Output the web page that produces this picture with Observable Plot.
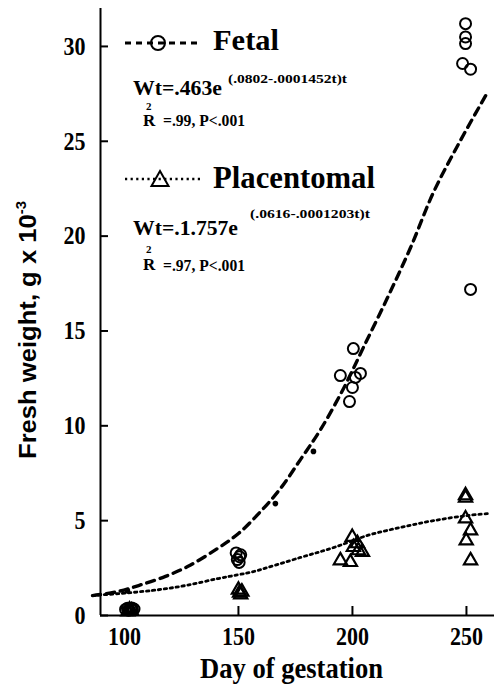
<!DOCTYPE html>
<html>
<head>
<meta charset="utf-8">
<script src="https://cdn.jsdelivr.net/npm/d3@7"></script>
<script src="https://cdn.jsdelivr.net/npm/@observablehq/plot@0.6"></script>
<style>
  body { margin: 0; background: #fff; }
  #chart { width: 494px; height: 688px; }
</style>
</head>
<body>
<div id="chart"></div>
<script>
// Fetal fresh weight (g x 10^-3) by day of gestation
const fetalDay = [100.5, 101.3, 102, 102.8, 103.5, 104.2, 101.8, 103.2,
                  149, 150.5, 149.5, 150.3, 151,
                  194.7, 200.4, 203.5, 201.3, 200, 198.7,
                  249.6, 249.6, 249.6, 248.3, 251.8, 251.8];
const fetalWt  = [0.32, 0.38, 0.3, 0.36, 0.3, 0.34, 0.28, 0.4,
                  3.3, 3.1, 2.95, 2.8, 3.2,
                  12.65, 14.07, 12.76, 12.55, 12.02, 11.28,
                  31.2, 30.5, 30.15, 29.1, 28.8, 17.19];

// Placentomal fresh weight (g x 10^-3) by day of gestation
const placDay = [101.5, 103, 102.2,
                 150, 150.5, 151, 151.5,
                 199.9, 194.7, 199.1, 200.4, 202.6, 204.4, 202.2,
                 249.6, 249.6, 249.6, 251.8, 249.9, 251.8];
const placWt  = [0.2, 0.25, 0.3,
                 1.35, 1.2, 1.1, 1.25,
                 4.13, 2.9, 2.81, 3.6, 3.43, 3.34, 3.8,
                 6.33, 6.2, 5.11, 4.48, 3.95, 2.9];

// Fitted growth curves
const fetalFitDay = [86, 97.4, 106.2, 116.7, 127.7, 140.8, 150, 159.7, 168.4, 177.2, 186, 196.1, 204.8, 215.4, 225.5, 235.5, 247.4, 259.2];
const fetalFitWt  = [1.05, 1.27, 1.58, 2.0, 2.58, 3.53, 4.32, 5.48, 6.69, 8.22, 9.8, 11.97, 14.13, 16.76, 19.4, 22.3, 25.05, 27.57];
const placFitDay  = [86, 112.3, 126.8, 141.2, 150, 156.1, 177.2, 191.7, 206.6, 221, 235.5, 250.4, 260.5];
const placFitWt   = [1.05, 1.32, 1.58, 1.95, 2.15, 2.3, 3.06, 3.58, 4.22, 4.64, 5.0, 5.27, 5.38];

// Small filled points beside the fetal curve
const knotDay = [101.3, 166.2, 182.9];
const knotWt  = [1.3, 5.9, 8.65];

// Axes
const xDomain = [89.5, 262.3];
const yDomain = [0, 32];
const xTicks = [100, 150, 200, 250];
const yTicks = [0, 5, 10, 15, 20, 25, 30];

const rows = (xs, ys) => xs.map((d, i) => ({day: d, wt: ys[i]}));
const fetal = rows(fetalDay, fetalWt);
const plac = rows(placDay, placWt);
const fetalFit = rows(fetalFitDay, fetalFitWt);
const placFit = rows(placFitDay, placFitWt);
const knots = rows(knotDay, knotWt);

const serif = "'Liberation Serif', 'Times New Roman', serif";
const sans = "'Liberation Sans', Arial, sans-serif";

const chart = Plot.plot({
  width: 494,
  height: 688,
  marginLeft: 100,
  marginRight: 0,
  marginTop: 8,
  marginBottom: 73,
  style: {background: "white", color: "black", fontFamily: serif},
  x: {domain: xDomain},
  y: {domain: yDomain},
  marks: [
    Plot.line(fetalFit, {x: "day", y: "wt", stroke: "black", strokeWidth: 3.4, strokeDasharray: "8,6", curve: "catmull-rom"}),
    Plot.line(placFit, {x: "day", y: "wt", stroke: "black", strokeWidth: 2.8, strokeDasharray: "2.4,3.6", curve: "catmull-rom"}),
    Plot.dot(fetal, {x: "day", y: "wt", r: 5.5, stroke: "black", strokeWidth: 2, fill: "none"}),
    Plot.dot(plac, {x: "day", y: "wt", symbol: "triangle", r: 4.9, stroke: "black", strokeWidth: 2.2, fill: "none"}),
    Plot.dot(knots, {x: "day", y: "wt", r: 2.8, fill: "black", stroke: null}),
    Plot.ruleX([xDomain[0]], {stroke: "black", strokeWidth: 2}),
    Plot.ruleY([yDomain[0]], {stroke: "black", strokeWidth: 2}),
    Plot.axisY({ticks: yTicks, tickSize: -8, tickPadding: 23, strokeWidth: 2, fontSize: 26, fontWeight: "bold", label: null}),
    Plot.axisX({ticks: xTicks, tickSize: -9, tickPadding: 20, strokeWidth: 2, fontSize: 26, fontWeight: "bold", label: null})
  ]
});

document.getElementById("chart").appendChild(chart);

const svg = d3.select(chart);

// Narrow the bold tick numerals
svg.selectAll('g[aria-label="y-axis tick label"] text, g[aria-label="x-axis tick label"] text').each(function () {
  const n = this.textContent.length;
  this.setAttribute("textLength", 11 * n);
  this.setAttribute("lengthAdjust", "spacingAndGlyphs");
});

function addText(g, str, x, y, size, width, family = serif) {
  const t = g.append("text")
    .attr("x", x).attr("y", y)
    .attr("text-anchor", "start")
    .attr("font-size", size)
    .attr("font-weight", "bold")
    .attr("font-family", family)
    .attr("fill", "black")
    .text(str);
  if (width) t.attr("textLength", width).attr("lengthAdjust", "spacingAndGlyphs");
  return t;
}

// Axis titles
addText(svg, "Day of gestation", 291.5, 678, 29, 183).attr("text-anchor", "middle");

const yt = svg.append("text")
  .attr("transform", "translate(36,330) rotate(-90)")
  .attr("text-anchor", "middle")
  .attr("font-family", sans)
  .attr("font-weight", "bold")
  .attr("font-size", 24)
  .attr("fill", "black");
yt.append("tspan").text("Fresh weight, g x 10");
yt.append("tspan").attr("font-size", 14).attr("dy", -10).text("-3");
yt.attr("textLength", 258).attr("lengthAdjust", "spacingAndGlyphs");

// Key with the fitted equations
const key = svg.append("g");

key.append("line")
  .attr("x1", 125).attr("x2", 200).attr("y1", 43).attr("y2", 43)
  .attr("stroke", "black").attr("stroke-width", 3).attr("stroke-dasharray", "6,5");
key.append("circle")
  .attr("cx", 158).attr("cy", 43).attr("r", 7)
  .attr("fill", "none").attr("stroke", "black").attr("stroke-width", 2);
addText(key, "Fetal", 213, 50, 30, 66);
addText(key, "Wt=.463e", 133, 95, 22, 89);
addText(key, "(.0802-.0001452t)t", 228, 83, 13, 119);
addText(key, "R", 143, 126, 17);
addText(key, "2", 146, 110, 11);
addText(key, "=.99, P<.001", 163, 126, 16, 82);

key.append("line")
  .attr("x1", 125).attr("x2", 200).attr("y1", 179).attr("y2", 179)
  .attr("stroke", "black").attr("stroke-width", 2.6).attr("stroke-dasharray", "2.2,3.4");
key.append("path")
  .attr("d", "M160,171L168.5,186H151.5Z")
  .attr("fill", "none").attr("stroke", "black").attr("stroke-width", 2);
addText(key, "Placentomal", 213, 188, 31, 162);
addText(key, "Wt=.1.757e", 133, 235, 22, 105);
addText(key, "(.0616-.0001203t)t", 250, 218, 13, 120);
addText(key, "R", 143, 270, 17);
addText(key, "2", 146, 253, 11);
addText(key, "=.97, P<.001", 163, 271, 16, 82);
</script>
</body>
</html>
